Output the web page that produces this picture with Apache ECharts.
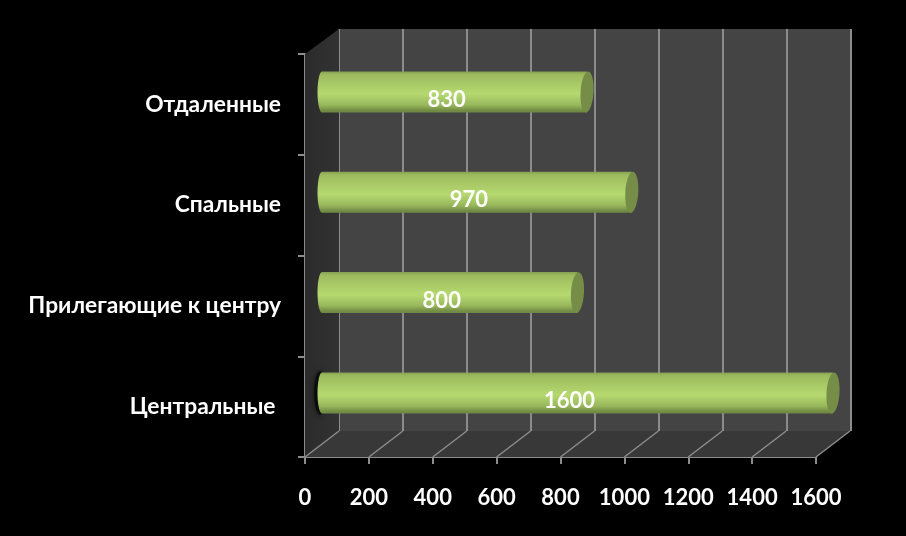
<!DOCTYPE html>
<html><head><meta charset="utf-8">
<style>html,body{margin:0;padding:0;background:#000}#c{width:906px;height:536px}</style>
<script src="https://cdn.jsdelivr.net/npm/echarts@6/dist/echarts.min.js"></script>
</head><body><div id="c"></div>
<script>
const categories = ['Центральные\u00A0', 'Прилегающие к центру', 'Спальные', 'Отдаленные'];
const values = [1600, 800, 970, 830];
const xTicks = [0, 200, 400, 600, 800, 1000, 1200, 1400, 1600];

const DX = 34, DY = -26;
const FONT = 'Lato, "Open Sans", sans-serif';
const GRID = '#8c8c8c';
const tube = new echarts.graphic.LinearGradient(0, 0, 0, 1, [
  {offset: 0, color: '#86a153'}, {offset: .08, color: '#9dbb5f'},
  {offset: .55, color: '#b5d96f'}, {offset: .82, color: '#98b75c'},
  {offset: .95, color: '#738d45'}, {offset: 1, color: '#6f8842'}]);

const valueAxis = (i, show) => ({
  type: 'value', gridIndex: i, min: 0, max: 1600, interval: 200, show: true,
  axisLine: {show: show, lineStyle: {color: GRID, width: 2}},
  axisTick: {show: show, length: 7, lineStyle: {color: GRID, width: 2}},
  axisLabel: {show: show, color: '#fff', fontFamily: FONT, fontWeight: 'bold', fontSize: 22, margin: 30,
              formatter: v => String(v)},
  splitLine: {show: i === 1, lineStyle: {color: GRID, width: 2}}
});
const catAxis = (i, show) => ({
  type: 'category', gridIndex: i, data: categories, show: true,
  axisLine: {show: show, onZero: false, lineStyle: {color: GRID, width: 2}},
  axisTick: {show: show, length: 7, lineStyle: {color: GRID, width: 2}},
  axisLabel: {show: show, color: '#fff', fontFamily: FONT, fontWeight: 'bold', fontSize: 22.8, margin: 24,
              padding: [4, 0, 0, 0]}
});

const chart = echarts.init(document.getElementById('c'), null, {renderer: 'canvas'});
chart.setOption({
  animation: false,
  backgroundColor: '#000',
  grid: [
    {left: 305, top: 54, width: 511, height: 403},
    {left: 339, top: 29, width: 511.5, height: 402, show: true, backgroundColor: '#444444', borderWidth: 0},
    {left: 322, top: 41.8, width: 511, height: 401.3}
  ],
  xAxis: [valueAxis(0, true), valueAxis(1, false), valueAxis(2, false)],
  yAxis: [catAxis(0, true), catAxis(1, false), catAxis(2, false)],
  series: [
    { // floor and side wall of the box
      type: 'custom', xAxisIndex: 0, yAxisIndex: 0, z: 1, silent: true,
      data: [[0]],
      renderItem(params, api) {
        const c = params.coordSys, l = c.x, r = c.x + c.width, t = c.y, b = c.y + c.height;
        return {type: 'group', children: [
          {type: 'polygon', shape: {points: [[l, b], [l + DX, b + DY], [r + DX, b + DY], [r, b]]}, style: {fill: '#383838'}},
          {type: 'polygon', shape: {points: [[l, t], [l + DX, t + DY + 1], [l + DX, b + DY], [l, b]]},
           style: {fill: new echarts.graphic.LinearGradient(0, 0, 1, 0, [{offset: 0, color: '#2b2b2b'}, {offset: 1, color: '#323232'}])}}
        ]};
      }
    },
    { // floor lines going back from each tick
      type: 'custom', xAxisIndex: 0, yAxisIndex: 0, z: 1, silent: true,
      data: xTicks.map(v => [v]),
      renderItem(params, api) {
        const c = params.coordSys, b = c.y + c.height;
        const x = api.coord([api.value(0), 0])[0];
        return {type: 'line', shape: {x1: x, y1: b, x2: x + DX, y2: b + DY}, style: {stroke: GRID, lineWidth: 1.5}};
      }
    },
    { // shadow beside the longest bar
      type: 'custom', xAxisIndex: 2, yAxisIndex: 2, z: 2, silent: true,
      data: [[0, 0]],
      renderItem(params, api) {
        const p = api.coord([api.value(0), api.value(1)]);
        return {type: 'ellipse', shape: {cx: p[0] - 2, cy: p[1], rx: 6, ry: 22},
          style: {fill: 'rgba(0,0,0,.6)', shadowBlur: 7, shadowColor: 'rgba(0,0,0,.9)'}};
      }
    },
    { // rounded near end of each tube
      type: 'custom', xAxisIndex: 2, yAxisIndex: 2, z: 3, silent: true,
      data: values.map((v, i) => [0, i]),
      renderItem(params, api) {
        const p = api.coord([api.value(0), api.value(1)]);
        return {type: 'ellipse', shape: {cx: p[0], cy: p[1], rx: 4.5, ry: 20.5}, style: {fill: tube}};
      }
    },
    {
      type: 'bar', xAxisIndex: 2, yAxisIndex: 2, z: 4, barWidth: 41, silent: true,
      data: values, itemStyle: {color: tube},
      label: {show: true, position: 'inside', offset: [-8, 8], color: '#fff', fontFamily: FONT, fontWeight: 'bold', fontSize: 22}
    },
    { // far end cap
      type: 'custom', xAxisIndex: 2, yAxisIndex: 2, z: 5, silent: true,
      data: values.map((v, i) => [v, i]),
      renderItem(params, api) {
        const p = api.coord([api.value(0), api.value(1)]);
        return {type: 'ellipse', x: p[0], y: p[1], rotation: -0.06, shape: {cx: 0, cy: 0, rx: 6.5, ry: 20.5},
          style: {fill: '#758d46'}};
      }
    }
  ]
});
</script></body></html>
